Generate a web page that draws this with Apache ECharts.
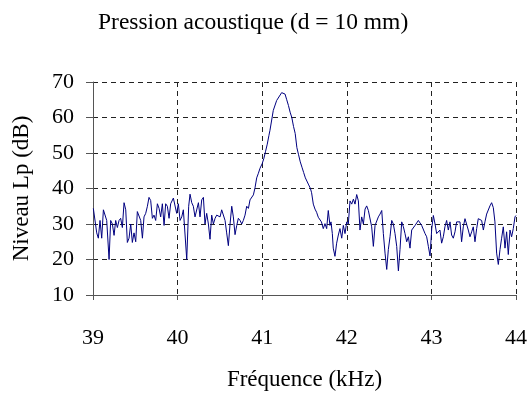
<!DOCTYPE html>
<html>
<head>
<meta charset="utf-8">
<script src="https://cdn.jsdelivr.net/npm/echarts@6/dist/echarts.min.js"></script>
<style>
html,body{margin:0;padding:0;background:#fff;}
#chart{width:530px;height:396px;}
</style>
</head>
<body>
<div id="chart"></div>
<script>
var titleText = 'Pression acoustique (d = 10 mm)';
var xName = 'Fréquence (kHz)';
var yName = 'Niveau Lp (dB)';
var xTicks = [39, 40, 41, 42, 43, 44];
var yTicks = [10, 20, 30, 40, 50, 60, 70];

var freq = [
39.004,39.024,39.044,39.063,39.083,39.103,39.123,39.142,39.162,39.190,
39.209,39.229,39.249,39.268,39.288,39.308,39.327,39.347,39.367,39.387,
39.406,39.426,39.446,39.465,39.485,39.505,39.524,39.544,39.564,39.584,
39.603,39.623,39.643,39.662,39.682,39.702,39.721,39.741,39.761,39.781,
39.800,39.820,39.840,39.859,39.879,39.899,39.918,39.950,39.970,39.989,
40.009,40.029,40.049,40.068,40.108,40.131,40.147,40.167,40.186,40.206,
40.226,40.246,40.265,40.285,40.305,40.324,40.344,40.364,40.383,40.403,
40.423,40.443,40.462,40.482,40.502,40.521,40.541,40.561,40.580,40.600,
40.620,40.640,40.659,40.679,40.699,40.718,40.738,40.758,40.777,40.797,
40.817,40.837,40.856,40.876,40.896,40.915,40.935,40.955,40.974,41.000,
41.020,41.040,41.060,41.080,41.092,41.131,41.171,41.230,41.250,41.270,
41.290,41.310,41.330,41.350,41.370,41.390,41.410,41.430,41.450,41.470,
41.490,41.510,41.530,41.550,41.570,41.584,41.604,41.624,41.643,41.663,
41.683,41.700,41.722,41.742,41.762,41.781,41.801,41.813,41.829,41.840,
41.860,41.880,41.900,41.919,41.940,41.959,41.979,41.999,42.018,42.038,
42.058,42.078,42.097,42.117,42.137,42.156,42.176,42.196,42.216,42.235,
42.255,42.275,42.294,42.314,42.334,42.353,42.373,42.393,42.413,42.432,
42.452,42.472,42.491,42.511,42.531,42.550,42.570,42.590,42.610,42.629,
42.649,42.669,42.688,42.708,42.728,42.747,42.767,42.787,42.807,42.826,
42.846,42.866,42.885,42.905,42.925,42.944,42.964,42.984,43.004,43.023,
43.043,43.062,43.082,43.101,43.121,43.141,43.160,43.180,43.200,43.220,
43.239,43.259,43.279,43.298,43.318,43.338,43.357,43.377,43.397,43.417,
43.436,43.456,43.476,43.495,43.515,43.535,43.554,43.574,43.594,43.614,
43.633,43.653,43.673,43.692,43.712,43.732,43.751,43.771,43.791,43.811,
43.830,43.850,43.870,43.889,43.909,43.929,43.948,43.968,43.988,44.000
];

var level = [
34.4,34.0,27.5,26.0,31.0,26.0,34.0,33.5,31.0,20.0,
31.0,30.0,26.8,31.0,29.0,31.0,31.6,29.0,36.0,34.0,
24.8,26.0,30.0,24.8,27.5,25.0,33.5,34.0,31.0,26.0,
32.0,33.0,35.0,37.5,36.6,31.6,32.5,31.0,35.7,34.4,
32.0,35.7,29.6,35.7,35.0,31.6,35.7,37.3,36.8,33.0,
35.7,31.0,32.0,34.0,20.0,35.0,38.4,36.0,35.0,32.0,
31.6,36.0,32.0,36.8,37.5,30.0,33.0,30.0,25.7,32.5,
30.0,31.6,32.5,33.0,32.0,34.0,34.4,31.0,27.5,23.9,
30.0,35.0,32.0,27.0,29.6,31.6,31.0,30.0,31.0,32.5,
35.0,34.4,36.8,37.3,38.2,40.2,43.0,44.3,45.7,47.0,
48.5,50.5,52.5,55.0,56.4,62.0,64.8,67.0,67.0,66.6,
65.0,63.4,61.5,60.0,57.5,55.5,51.5,49.5,47.5,46.0,
44.5,43.0,42.5,41.0,40.0,38.8,35.6,34.2,33.3,31.9,
31.5,30.6,28.7,30.1,28.7,33.8,29.6,30.6,27.3,23.2,
20.9,24.6,26.9,28.7,26.0,29.6,27.3,30.6,30.0,36.5,
35.6,37.0,35.6,38.3,36.5,28.3,32.0,30.0,34.2,35.1,
33.8,33.3,29.2,23.7,29.6,29.2,32.0,32.8,33.8,27.3,
21.8,17.2,22.8,26.4,31.0,30.0,27.3,23.7,16.8,22.8,
30.6,29.2,27.3,25.0,26.4,23.2,28.3,27.8,29.6,30.0,
31.0,31.5,29.6,29.2,27.3,26.4,23.7,21.0,28.7,32.4,
30.0,27.3,26.9,28.3,24.6,26.4,29.2,31.0,28.3,30.6,
26.9,26.0,27.8,30.6,31.0,30.6,25.0,29.2,31.5,32.0,
28.3,26.4,27.8,29.2,25.0,28.7,31.5,32.0,31.0,28.3,
30.6,32.8,32.4,35.1,36.0,34.6,30.6,21.8,18.6,22.8,
26.0,29.2,23.2,27.8,21.4,28.3,26.4,28.7,32.0,32.4
];

var seriesData = freq.map(function (f, i) { return [f, level[i]]; });

var serif = "'Liberation Serif', 'Times New Roman', serif";
var chart = echarts.init(document.getElementById('chart'), null, {renderer: 'canvas'});
chart.setOption({
  animation: false,
  backgroundColor: '#ffffff',
  title: {
    text: titleText,
    left: 93,
    top: 6,
    textStyle: {fontFamily: serif, fontSize: 23.5, fontWeight: 'normal', color: '#000'}
  },
  grid: {left: 93, right: 14, top: 82, bottom: 96, containLabel: false},
  xAxis: {
    type: 'value',
    min: xTicks[0],
    max: xTicks[xTicks.length - 1],
    interval: 1,
    name: xName,
    nameLocation: 'middle',
    nameGap: 73,
    nameTextStyle: {fontFamily: serif, fontSize: 23, color: '#000'},
    axisLine: {show: true, onZero: false, lineStyle: {color: '#555', width: 1}},
    axisTick: {show: true, length: 5, lineStyle: {color: '#555'}},
    axisLabel: {margin: 32, fontFamily: serif, fontSize: 22, color: '#000'},
    splitLine: {show: true, lineStyle: {type: [5, 4], color: '#222', width: 1}}
  },
  yAxis: {
    type: 'value',
    min: yTicks[0],
    max: yTicks[yTicks.length - 1],
    interval: 10,
    name: yName,
    nameLocation: 'middle',
    nameGap: 60,
    nameTextStyle: {fontFamily: serif, fontSize: 23, color: '#000'},
    axisLine: {show: true, onZero: false, lineStyle: {color: '#555', width: 1}},
    axisTick: {show: true, length: 7, lineStyle: {color: '#555'}},
    axisLabel: {margin: 19, fontFamily: serif, fontSize: 22, color: '#000'},
    splitLine: {show: true, lineStyle: {type: [5, 4], color: '#222', width: 1}}
  },
  series: [{
    type: 'line',
    data: seriesData,
    showSymbol: false,
    symbol: 'none',
    smooth: false,
    lineStyle: {color: '#000080', width: 1},
    z: 3
  }]
});
</script>
</body>
</html>
